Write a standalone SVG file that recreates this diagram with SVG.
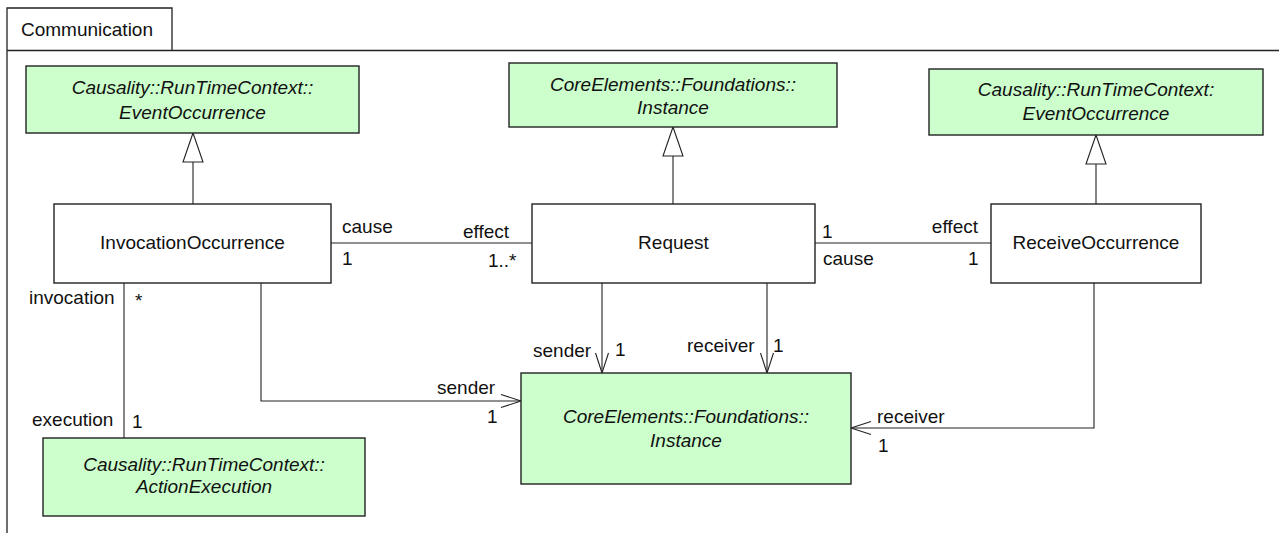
<svg xmlns="http://www.w3.org/2000/svg" width="1279" height="533" viewBox="0 0 1279 533">
<style>
text{font-family:"Liberation Sans",Arial,sans-serif;font-size:19px;fill:#111}
.c{text-anchor:middle}
.i{font-style:italic}
.box{fill:#fff;stroke:#222;stroke-width:1.4}
.ext{fill:#ccffcc;stroke:#222;stroke-width:1.4}
.ln{fill:none;stroke:#222;stroke-width:1.1}
.tri{fill:#fff;stroke:#222;stroke-width:1.1}
.frame{fill:none;stroke:#222;stroke-width:1.3}
</style>
<defs>
<marker id="open" markerUnits="userSpaceOnUse" markerWidth="24" markerHeight="16" viewBox="-21 -8 23 16" refX="0" refY="0" orient="auto">
<path d="M-20,-6.5 L0,0 L-20,6.5" fill="none" stroke="#222" stroke-width="1.1"/>
</marker>
</defs>
<g id="frame">
<path class="frame" d="M7,533 V8 H172 V50.5 M7,50.5 H1279"/>
<text x="21" y="36">Communication</text>
</g>
<g id="connectors">
<line class="ln" x1="193" y1="162" x2="193" y2="204"/>
<polygon class="tri" points="193,133 183,162 203,162"/>
<line class="ln" x1="673" y1="156" x2="673" y2="204"/>
<polygon class="tri" points="673,127 663,156 683,156"/>
<line class="ln" x1="1096" y1="164" x2="1096" y2="204"/>
<polygon class="tri" points="1096,135 1086,164 1106,164"/>
<line class="ln" x1="331" y1="243" x2="532" y2="243"/>
<line class="ln" x1="815" y1="243" x2="991" y2="243"/>
<line class="ln" x1="124" y1="283" x2="124" y2="438"/>
<polyline class="ln" points="261,283 261,401 521,401" marker-end="url(#open)"/>
<line class="ln" x1="602" y1="283" x2="602" y2="373" marker-end="url(#open)"/>
<line class="ln" x1="767" y1="283" x2="767" y2="373" marker-end="url(#open)"/>
<polyline class="ln" points="1094,283 1094,428 851,428" marker-end="url(#open)"/>
<text x="342" y="233">cause</text>
<text x="342" y="265">1</text>
<text x="463" y="238">effect</text>
<text x="488" y="267">1..*</text>
<text x="822" y="238">1</text>
<text x="823" y="265">cause</text>
<text x="978" y="233" text-anchor="end">effect</text>
<text x="968" y="265">1</text>
<text x="29" y="304">invocation</text>
<text x="135" y="307">*</text>
<text x="32" y="426">execution</text>
<text x="132" y="428">1</text>
<text x="437" y="394">sender</text>
<text x="487" y="423">1</text>
<text x="533" y="357">sender</text>
<text x="615" y="356">1</text>
<text x="687" y="352">receiver</text>
<text x="773" y="352">1</text>
<text x="877" y="423">receiver</text>
<text x="878" y="452">1</text>
</g>
<g id="eventOccurrenceLeft">
<rect class="ext" x="26" y="66" width="333" height="67"/>
<text class="c i" x="192.5" y="94">Causality::RunTimeContext::</text>
<text class="c i" x="192.5" y="118.5">EventOccurrence</text>
</g>
<g id="instanceTop">
<rect class="ext" x="509" y="63" width="328" height="64"/>
<text class="c i" x="673" y="90.7">CoreElements::Foundations::</text>
<text class="c i" x="673" y="114.3">Instance</text>
</g>
<g id="eventOccurrenceRight">
<rect class="ext" x="929" y="69" width="334" height="66"/>
<text class="c i" x="1096" y="95.5">Causality::RunTimeContext:</text>
<text class="c i" x="1096" y="119.5">EventOccurrence</text>
</g>
<g id="invocationOccurrence">
<rect class="box" x="54" y="204" width="277" height="79"/>
<text class="c" x="192.5" y="249">InvocationOccurrence</text>
</g>
<g id="request">
<rect class="box" x="532" y="204" width="283" height="79"/>
<text class="c" x="673.5" y="249">Request</text>
</g>
<g id="receiveOccurrence">
<rect class="box" x="991" y="204" width="210" height="79"/>
<text class="c" x="1096" y="249">ReceiveOccurrence</text>
</g>
<g id="instanceBottom">
<rect class="ext" x="521" y="373" width="330" height="111"/>
<text class="c i" x="686" y="423.3">CoreElements::Foundations::</text>
<text class="c i" x="686" y="447.3">Instance</text>
</g>
<g id="actionExecution">
<rect class="ext" x="43" y="438" width="322" height="78"/>
<text class="c i" x="204" y="471">Causality::RunTimeContext::</text>
<text class="c i" x="204" y="492.5">ActionExecution</text>
</g>
</svg>
